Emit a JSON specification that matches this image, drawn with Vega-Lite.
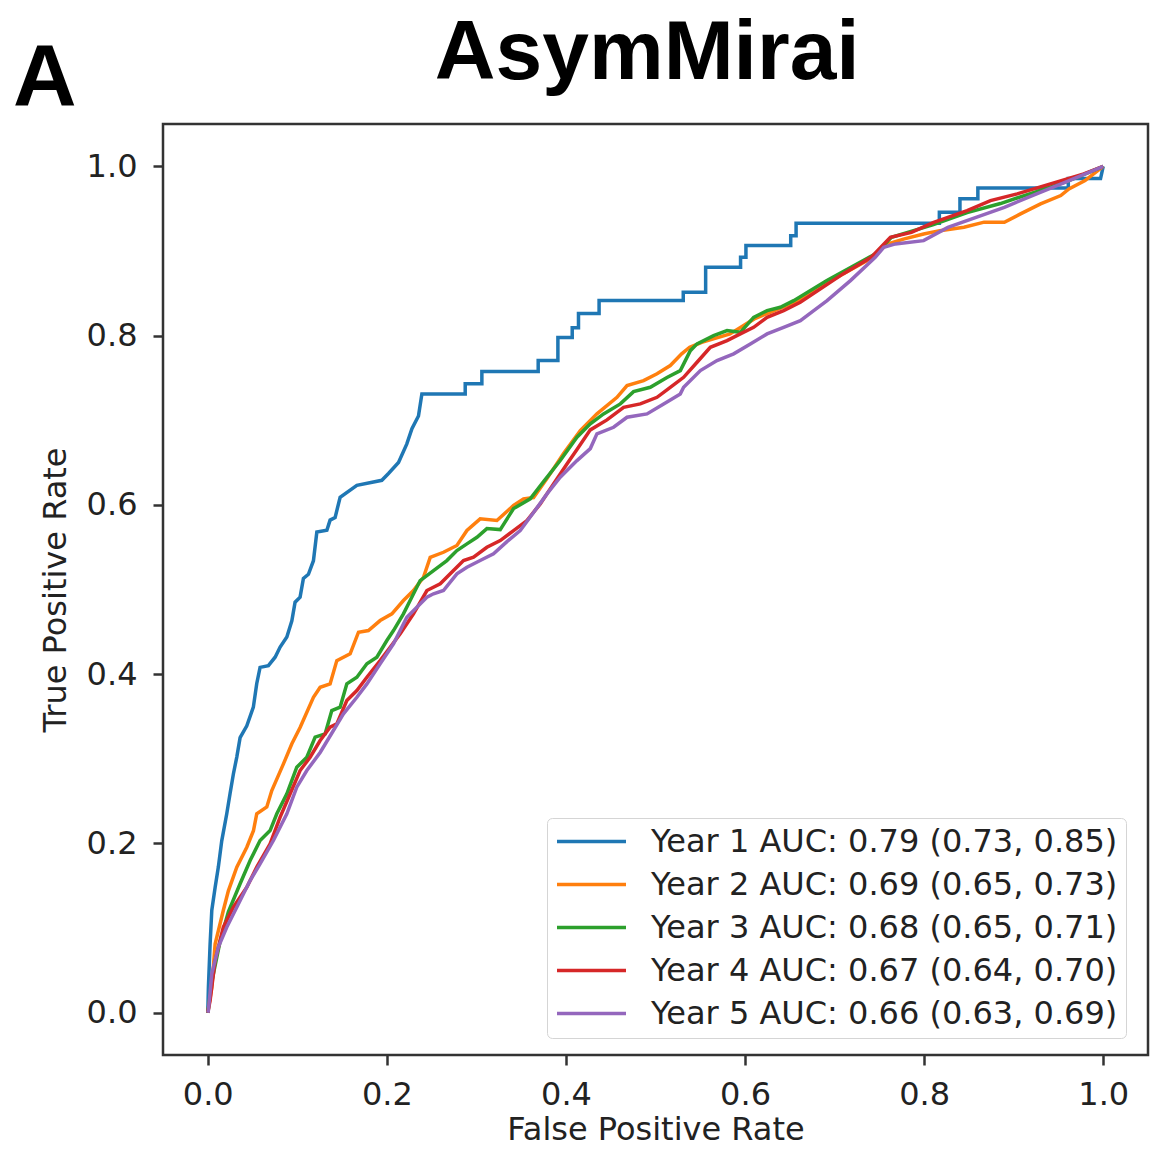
{
  "$schema": "https://vega.github.io/schema/vega-lite/v6.json",
  "autosize": {"type": "none"},
  "padding": {"left": 163, "top": 124, "right": 4, "bottom": 96},
  "width": 985,
  "height": 931,
  "background": "white",
  "datasets": {
    "labels": [
      {"s": 1, "label": "Year 1 AUC: 0.79 (0.73, 0.85)"},
      {"s": 2, "label": "Year 2 AUC: 0.69 (0.65, 0.73)"},
      {"s": 3, "label": "Year 3 AUC: 0.68 (0.65, 0.71)"},
      {"s": 4, "label": "Year 4 AUC: 0.67 (0.64, 0.70)"},
      {"s": 5, "label": "Year 5 AUC: 0.66 (0.63, 0.69)"}
    ],
    "texts": [
      {"t": "AsymMirai", "kind": "title", "px": 0.4908, "py": 1.1036},
      {"t": "A", "kind": "panel", "px": -0.182, "py": 1.072}
    ],
    "curves": [
      {"s":1,"i":0,"fpr":0,"tpr":0},
      {"s":1,"i":1,"fpr":0.0007,"tpr":0.030},
      {"s":1,"i":2,"fpr":0.0026,"tpr":0.081},
      {"s":1,"i":3,"fpr":0.0045,"tpr":0.121},
      {"s":1,"i":4,"fpr":0.0082,"tpr":0.148},
      {"s":1,"i":5,"fpr":0.0118,"tpr":0.172},
      {"s":1,"i":6,"fpr":0.0156,"tpr":0.203},
      {"s":1,"i":7,"fpr":0.0212,"tpr":0.235},
      {"s":1,"i":8,"fpr":0.0249,"tpr":0.259},
      {"s":1,"i":9,"fpr":0.0286,"tpr":0.282},
      {"s":1,"i":10,"fpr":0.0324,"tpr":0.302},
      {"s":1,"i":11,"fpr":0.0361,"tpr":0.325},
      {"s":1,"i":12,"fpr":0.0436,"tpr":0.339},
      {"s":1,"i":13,"fpr":0.0509,"tpr":0.361},
      {"s":1,"i":14,"fpr":0.0547,"tpr":0.389},
      {"s":1,"i":15,"fpr":0.0584,"tpr":0.408},
      {"s":1,"i":16,"fpr":0.0677,"tpr":0.410},
      {"s":1,"i":17,"fpr":0.0752,"tpr":0.420},
      {"s":1,"i":18,"fpr":0.0808,"tpr":0.432},
      {"s":1,"i":19,"fpr":0.0883,"tpr":0.444},
      {"s":1,"i":20,"fpr":0.0939,"tpr":0.463},
      {"s":1,"i":21,"fpr":0.0975,"tpr":0.485},
      {"s":1,"i":22,"fpr":0.1031,"tpr":0.491},
      {"s":1,"i":23,"fpr":0.1068,"tpr":0.513},
      {"s":1,"i":24,"fpr":0.1124,"tpr":0.518},
      {"s":1,"i":25,"fpr":0.118,"tpr":0.534},
      {"s":1,"i":26,"fpr":0.1218,"tpr":0.568},
      {"s":1,"i":27,"fpr":0.133,"tpr":0.570},
      {"s":1,"i":28,"fpr":0.1366,"tpr":0.582},
      {"s":1,"i":29,"fpr":0.1422,"tpr":0.585},
      {"s":1,"i":30,"fpr":0.1478,"tpr":0.609},
      {"s":1,"i":31,"fpr":0.1665,"tpr":0.623},
      {"s":1,"i":32,"fpr":0.1944,"tpr":0.629},
      {"s":1,"i":33,"fpr":0.2018,"tpr":0.637},
      {"s":1,"i":34,"fpr":0.213,"tpr":0.650},
      {"s":1,"i":35,"fpr":0.2223,"tpr":0.672},
      {"s":1,"i":36,"fpr":0.228,"tpr":0.690},
      {"s":1,"i":37,"fpr":0.2353,"tpr":0.705},
      {"s":1,"i":38,"fpr":0.2391,"tpr":0.731},
      {"s":1,"i":39,"fpr":0.2875,"tpr":0.731},
      {"s":1,"i":40,"fpr":0.2875,"tpr":0.743},
      {"s":1,"i":41,"fpr":0.3061,"tpr":0.743},
      {"s":1,"i":42,"fpr":0.3061,"tpr":0.7575},
      {"s":1,"i":43,"fpr":0.369,"tpr":0.7575},
      {"s":1,"i":44,"fpr":0.369,"tpr":0.7705},
      {"s":1,"i":45,"fpr":0.391,"tpr":0.7705},
      {"s":1,"i":46,"fpr":0.391,"tpr":0.7976},
      {"s":1,"i":47,"fpr":0.407,"tpr":0.7976},
      {"s":1,"i":48,"fpr":0.407,"tpr":0.8094},
      {"s":1,"i":49,"fpr":0.414,"tpr":0.8094},
      {"s":1,"i":50,"fpr":0.414,"tpr":0.826},
      {"s":1,"i":51,"fpr":0.437,"tpr":0.826},
      {"s":1,"i":52,"fpr":0.437,"tpr":0.8414},
      {"s":1,"i":53,"fpr":0.531,"tpr":0.8414},
      {"s":1,"i":54,"fpr":0.531,"tpr":0.8512},
      {"s":1,"i":55,"fpr":0.556,"tpr":0.8512},
      {"s":1,"i":56,"fpr":0.556,"tpr":0.8807},
      {"s":1,"i":57,"fpr":0.595,"tpr":0.8807},
      {"s":1,"i":58,"fpr":0.595,"tpr":0.8925},
      {"s":1,"i":59,"fpr":0.601,"tpr":0.8925},
      {"s":1,"i":60,"fpr":0.601,"tpr":0.9063},
      {"s":1,"i":61,"fpr":0.651,"tpr":0.9063},
      {"s":1,"i":62,"fpr":0.651,"tpr":0.9181},
      {"s":1,"i":63,"fpr":0.657,"tpr":0.9181},
      {"s":1,"i":64,"fpr":0.657,"tpr":0.9327},
      {"s":1,"i":65,"fpr":0.817,"tpr":0.9327},
      {"s":1,"i":66,"fpr":0.817,"tpr":0.9457},
      {"s":1,"i":67,"fpr":0.840,"tpr":0.9457},
      {"s":1,"i":68,"fpr":0.840,"tpr":0.9618},
      {"s":1,"i":69,"fpr":0.860,"tpr":0.9618},
      {"s":1,"i":70,"fpr":0.860,"tpr":0.9745},
      {"s":1,"i":71,"fpr":0.961,"tpr":0.9745},
      {"s":1,"i":72,"fpr":0.961,"tpr":0.9855},
      {"s":1,"i":73,"fpr":0.997,"tpr":0.9855},
      {"s":1,"i":74,"fpr":1.0,"tpr":1.0},

      {"s":2,"i":0,"fpr":0,"tpr":0},
      {"s":2,"i":1,"fpr":0.0045,"tpr":0.030},
      {"s":2,"i":2,"fpr":0.0082,"tpr":0.081},
      {"s":2,"i":3,"fpr":0.0174,"tpr":0.121},
      {"s":2,"i":4,"fpr":0.023,"tpr":0.144},
      {"s":2,"i":5,"fpr":0.0324,"tpr":0.172},
      {"s":2,"i":6,"fpr":0.0436,"tpr":0.1955},
      {"s":2,"i":7,"fpr":0.051,"tpr":0.215},
      {"s":2,"i":8,"fpr":0.0547,"tpr":0.235},
      {"s":2,"i":9,"fpr":0.0659,"tpr":0.243},
      {"s":2,"i":10,"fpr":0.0715,"tpr":0.2625},
      {"s":2,"i":11,"fpr":0.0845,"tpr":0.294},
      {"s":2,"i":12,"fpr":0.0939,"tpr":0.3177},
      {"s":2,"i":13,"fpr":0.1031,"tpr":0.337},
      {"s":2,"i":14,"fpr":0.118,"tpr":0.3727},
      {"s":2,"i":15,"fpr":0.1255,"tpr":0.3845},
      {"s":2,"i":16,"fpr":0.1366,"tpr":0.3885},
      {"s":2,"i":17,"fpr":0.1441,"tpr":0.416},
      {"s":2,"i":18,"fpr":0.159,"tpr":0.424},
      {"s":2,"i":19,"fpr":0.1683,"tpr":0.4495},
      {"s":2,"i":20,"fpr":0.1794,"tpr":0.4515},
      {"s":2,"i":21,"fpr":0.1925,"tpr":0.4633},
      {"s":2,"i":22,"fpr":0.2056,"tpr":0.4712},
      {"s":2,"i":23,"fpr":0.2185,"tpr":0.487},
      {"s":2,"i":24,"fpr":0.2297,"tpr":0.4988},
      {"s":2,"i":25,"fpr":0.2409,"tpr":0.5145},
      {"s":2,"i":26,"fpr":0.2484,"tpr":0.538},
      {"s":2,"i":27,"fpr":0.2632,"tpr":0.544},
      {"s":2,"i":28,"fpr":0.2782,"tpr":0.552},
      {"s":2,"i":29,"fpr":0.2894,"tpr":0.5697},
      {"s":2,"i":30,"fpr":0.3042,"tpr":0.5835},
      {"s":2,"i":31,"fpr":0.3229,"tpr":0.5815},
      {"s":2,"i":32,"fpr":0.3415,"tpr":0.5993},
      {"s":2,"i":33,"fpr":0.3526,"tpr":0.6071},
      {"s":2,"i":34,"fpr":0.3638,"tpr":0.6086},
      {"s":2,"i":35,"fpr":0.3788,"tpr":0.631},
      {"s":2,"i":36,"fpr":0.3973,"tpr":0.6606},
      {"s":2,"i":37,"fpr":0.416,"tpr":0.6878},
      {"s":2,"i":38,"fpr":0.4346,"tpr":0.7075},
      {"s":2,"i":39,"fpr":0.457,"tpr":0.7271},
      {"s":2,"i":40,"fpr":0.4682,"tpr":0.741},
      {"s":2,"i":41,"fpr":0.4867,"tpr":0.7468},
      {"s":2,"i":42,"fpr":0.5017,"tpr":0.7548},
      {"s":2,"i":43,"fpr":0.5165,"tpr":0.7646},
      {"s":2,"i":44,"fpr":0.5292,"tpr":0.7784},
      {"s":2,"i":45,"fpr":0.5382,"tpr":0.7862},
      {"s":2,"i":46,"fpr":0.5516,"tpr":0.7921},
      {"s":2,"i":47,"fpr":0.5832,"tpr":0.802},
      {"s":2,"i":48,"fpr":0.6103,"tpr":0.8197},
      {"s":2,"i":49,"fpr":0.6327,"tpr":0.8295},
      {"s":2,"i":50,"fpr":0.6553,"tpr":0.8393},
      {"s":2,"i":51,"fpr":0.6823,"tpr":0.857},
      {"s":2,"i":52,"fpr":0.7094,"tpr":0.8729},
      {"s":2,"i":53,"fpr":0.7364,"tpr":0.8886},
      {"s":2,"i":54,"fpr":0.759,"tpr":0.908},
      {"s":2,"i":55,"fpr":0.7769,"tpr":0.914},
      {"s":2,"i":56,"fpr":0.7994,"tpr":0.920},
      {"s":2,"i":57,"fpr":0.8175,"tpr":0.924},
      {"s":2,"i":58,"fpr":0.8445,"tpr":0.928},
      {"s":2,"i":59,"fpr":0.867,"tpr":0.934},
      {"s":2,"i":60,"fpr":0.8896,"tpr":0.9339},
      {"s":2,"i":61,"fpr":0.9076,"tpr":0.9438},
      {"s":2,"i":62,"fpr":0.930,"tpr":0.9556},
      {"s":2,"i":63,"fpr":0.9526,"tpr":0.9654},
      {"s":2,"i":64,"fpr":0.9617,"tpr":0.9733},
      {"s":2,"i":65,"fpr":0.9797,"tpr":0.9831},
      {"s":2,"i":66,"fpr":1.0,"tpr":1.0},

      {"s":3,"i":0,"fpr":0,"tpr":0},
      {"s":3,"i":1,"fpr":0.0045,"tpr":0.0366},
      {"s":3,"i":2,"fpr":0.0137,"tpr":0.0839},
      {"s":3,"i":3,"fpr":0.023,"tpr":0.1193},
      {"s":3,"i":4,"fpr":0.0361,"tpr":0.1523},
      {"s":3,"i":5,"fpr":0.0473,"tpr":0.1798},
      {"s":3,"i":6,"fpr":0.0584,"tpr":0.2034},
      {"s":3,"i":7,"fpr":0.0696,"tpr":0.2152},
      {"s":3,"i":8,"fpr":0.0771,"tpr":0.235},
      {"s":3,"i":9,"fpr":0.0883,"tpr":0.2586},
      {"s":3,"i":10,"fpr":0.0994,"tpr":0.29},
      {"s":3,"i":11,"fpr":0.1106,"tpr":0.3018},
      {"s":3,"i":12,"fpr":0.1199,"tpr":0.3255},
      {"s":3,"i":13,"fpr":0.1311,"tpr":0.3295},
      {"s":3,"i":14,"fpr":0.1385,"tpr":0.357},
      {"s":3,"i":15,"fpr":0.1478,"tpr":0.3609},
      {"s":3,"i":16,"fpr":0.1553,"tpr":0.3885},
      {"s":3,"i":17,"fpr":0.1665,"tpr":0.3963},
      {"s":3,"i":18,"fpr":0.1777,"tpr":0.4122},
      {"s":3,"i":19,"fpr":0.1888,"tpr":0.42},
      {"s":3,"i":20,"fpr":0.2,"tpr":0.4397},
      {"s":3,"i":21,"fpr":0.2074,"tpr":0.4515},
      {"s":3,"i":22,"fpr":0.2185,"tpr":0.4712},
      {"s":3,"i":23,"fpr":0.226,"tpr":0.487},
      {"s":3,"i":24,"fpr":0.2372,"tpr":0.5106},
      {"s":3,"i":25,"fpr":0.2521,"tpr":0.5224},
      {"s":3,"i":26,"fpr":0.267,"tpr":0.5342},
      {"s":3,"i":27,"fpr":0.2782,"tpr":0.546},
      {"s":3,"i":28,"fpr":0.2894,"tpr":0.5539},
      {"s":3,"i":29,"fpr":0.3006,"tpr":0.5617},
      {"s":3,"i":30,"fpr":0.3117,"tpr":0.572},
      {"s":3,"i":31,"fpr":0.3266,"tpr":0.5708},
      {"s":3,"i":32,"fpr":0.3415,"tpr":0.5956},
      {"s":3,"i":33,"fpr":0.3601,"tpr":0.6071},
      {"s":3,"i":34,"fpr":0.375,"tpr":0.6275},
      {"s":3,"i":35,"fpr":0.3936,"tpr":0.6524},
      {"s":3,"i":36,"fpr":0.4123,"tpr":0.6799},
      {"s":3,"i":37,"fpr":0.4272,"tpr":0.6957},
      {"s":3,"i":38,"fpr":0.442,"tpr":0.7075},
      {"s":3,"i":39,"fpr":0.4607,"tpr":0.7193},
      {"s":3,"i":40,"fpr":0.4755,"tpr":0.7338},
      {"s":3,"i":41,"fpr":0.4942,"tpr":0.7389},
      {"s":3,"i":42,"fpr":0.5128,"tpr":0.7504},
      {"s":3,"i":43,"fpr":0.5277,"tpr":0.7586},
      {"s":3,"i":44,"fpr":0.5389,"tpr":0.7822},
      {"s":3,"i":45,"fpr":0.5464,"tpr":0.7902},
      {"s":3,"i":46,"fpr":0.5649,"tpr":0.80},
      {"s":3,"i":47,"fpr":0.5799,"tpr":0.8059},
      {"s":3,"i":48,"fpr":0.5947,"tpr":0.8039},
      {"s":3,"i":49,"fpr":0.6096,"tpr":0.8216},
      {"s":3,"i":50,"fpr":0.6246,"tpr":0.8295},
      {"s":3,"i":51,"fpr":0.6394,"tpr":0.8334},
      {"s":3,"i":52,"fpr":0.6543,"tpr":0.8413},
      {"s":3,"i":53,"fpr":0.6914,"tpr":0.865},
      {"s":3,"i":54,"fpr":0.7183,"tpr":0.8807},
      {"s":3,"i":55,"fpr":0.7454,"tpr":0.8965},
      {"s":3,"i":56,"fpr":0.7635,"tpr":0.9161},
      {"s":3,"i":57,"fpr":0.8104,"tpr":0.9311},
      {"s":3,"i":58,"fpr":0.848,"tpr":0.9453},
      {"s":3,"i":59,"fpr":0.8852,"tpr":0.956},
      {"s":3,"i":60,"fpr":0.9221,"tpr":0.969},
      {"s":3,"i":61,"fpr":0.959,"tpr":0.982},
      {"s":3,"i":62,"fpr":1.0,"tpr":1.0},

      {"s":4,"i":0,"fpr":0,"tpr":0},
      {"s":4,"i":1,"fpr":0.0026,"tpr":0.0144},
      {"s":4,"i":2,"fpr":0.0082,"tpr":0.0617},
      {"s":4,"i":3,"fpr":0.0174,"tpr":0.101},
      {"s":4,"i":4,"fpr":0.0286,"tpr":0.1246},
      {"s":4,"i":5,"fpr":0.0436,"tpr":0.1483},
      {"s":4,"i":6,"fpr":0.0547,"tpr":0.1719},
      {"s":4,"i":7,"fpr":0.0696,"tpr":0.1995},
      {"s":4,"i":8,"fpr":0.0808,"tpr":0.231},
      {"s":4,"i":9,"fpr":0.092,"tpr":0.2586},
      {"s":4,"i":10,"fpr":0.1031,"tpr":0.2861},
      {"s":4,"i":11,"fpr":0.1143,"tpr":0.3018},
      {"s":4,"i":12,"fpr":0.1255,"tpr":0.3216},
      {"s":4,"i":13,"fpr":0.1366,"tpr":0.3373},
      {"s":4,"i":14,"fpr":0.1441,"tpr":0.3413},
      {"s":4,"i":15,"fpr":0.1553,"tpr":0.3688},
      {"s":4,"i":16,"fpr":0.1665,"tpr":0.3806},
      {"s":4,"i":17,"fpr":0.1777,"tpr":0.3963},
      {"s":4,"i":18,"fpr":0.1925,"tpr":0.4161},
      {"s":4,"i":19,"fpr":0.2037,"tpr":0.4318},
      {"s":4,"i":20,"fpr":0.2149,"tpr":0.4476},
      {"s":4,"i":21,"fpr":0.2297,"tpr":0.4712},
      {"s":4,"i":22,"fpr":0.2447,"tpr":0.4988},
      {"s":4,"i":23,"fpr":0.2596,"tpr":0.5067},
      {"s":4,"i":24,"fpr":0.2744,"tpr":0.5224},
      {"s":4,"i":25,"fpr":0.2856,"tpr":0.5342},
      {"s":4,"i":26,"fpr":0.2968,"tpr":0.5381},
      {"s":4,"i":27,"fpr":0.3117,"tpr":0.5499},
      {"s":4,"i":28,"fpr":0.3266,"tpr":0.5578},
      {"s":4,"i":29,"fpr":0.3415,"tpr":0.5696},
      {"s":4,"i":30,"fpr":0.3564,"tpr":0.5814},
      {"s":4,"i":31,"fpr":0.3713,"tpr":0.6012},
      {"s":4,"i":32,"fpr":0.3861,"tpr":0.6248},
      {"s":4,"i":33,"fpr":0.4011,"tpr":0.6484},
      {"s":4,"i":34,"fpr":0.4123,"tpr":0.6653},
      {"s":4,"i":35,"fpr":0.4272,"tpr":0.6886},
      {"s":4,"i":36,"fpr":0.4458,"tpr":0.7004},
      {"s":4,"i":37,"fpr":0.4644,"tpr":0.7153},
      {"s":4,"i":38,"fpr":0.483,"tpr":0.7193},
      {"s":4,"i":39,"fpr":0.5017,"tpr":0.7271},
      {"s":4,"i":40,"fpr":0.5165,"tpr":0.7389},
      {"s":4,"i":41,"fpr":0.5314,"tpr":0.7507},
      {"s":4,"i":42,"fpr":0.5464,"tpr":0.7685},
      {"s":4,"i":43,"fpr":0.5612,"tpr":0.7862},
      {"s":4,"i":44,"fpr":0.5799,"tpr":0.7941},
      {"s":4,"i":45,"fpr":0.5947,"tpr":0.802},
      {"s":4,"i":46,"fpr":0.6096,"tpr":0.8098},
      {"s":4,"i":47,"fpr":0.6246,"tpr":0.8216},
      {"s":4,"i":48,"fpr":0.6431,"tpr":0.8295},
      {"s":4,"i":49,"fpr":0.6617,"tpr":0.8393},
      {"s":4,"i":50,"fpr":0.7094,"tpr":0.8729},
      {"s":4,"i":51,"fpr":0.7409,"tpr":0.8925},
      {"s":4,"i":52,"fpr":0.7623,"tpr":0.9161},
      {"s":4,"i":53,"fpr":0.7858,"tpr":0.922},
      {"s":4,"i":54,"fpr":0.8107,"tpr":0.9338},
      {"s":4,"i":55,"fpr":0.848,"tpr":0.9477},
      {"s":4,"i":56,"fpr":0.8741,"tpr":0.9595},
      {"s":4,"i":57,"fpr":0.9039,"tpr":0.9674},
      {"s":4,"i":58,"fpr":0.9411,"tpr":0.9792},
      {"s":4,"i":59,"fpr":0.9783,"tpr":0.991},
      {"s":4,"i":60,"fpr":1.0,"tpr":1.0},

      {"s":5,"i":0,"fpr":0,"tpr":0},
      {"s":5,"i":1,"fpr":0.0007,"tpr":0.0026},
      {"s":5,"i":2,"fpr":0.0045,"tpr":0.046},
      {"s":5,"i":3,"fpr":0.0118,"tpr":0.0774},
      {"s":5,"i":4,"fpr":0.0212,"tpr":0.101},
      {"s":5,"i":5,"fpr":0.0324,"tpr":0.1246},
      {"s":5,"i":6,"fpr":0.0473,"tpr":0.1562},
      {"s":5,"i":7,"fpr":0.0584,"tpr":0.1759},
      {"s":5,"i":8,"fpr":0.0733,"tpr":0.2034},
      {"s":5,"i":9,"fpr":0.0883,"tpr":0.235},
      {"s":5,"i":10,"fpr":0.0994,"tpr":0.2664},
      {"s":5,"i":11,"fpr":0.1106,"tpr":0.2861},
      {"s":5,"i":12,"fpr":0.1255,"tpr":0.3074},
      {"s":5,"i":13,"fpr":0.1403,"tpr":0.3334},
      {"s":5,"i":14,"fpr":0.1515,"tpr":0.3531},
      {"s":5,"i":15,"fpr":0.1665,"tpr":0.3727},
      {"s":5,"i":16,"fpr":0.1777,"tpr":0.3885},
      {"s":5,"i":17,"fpr":0.1925,"tpr":0.4122},
      {"s":5,"i":18,"fpr":0.2074,"tpr":0.4358},
      {"s":5,"i":19,"fpr":0.2223,"tpr":0.4672},
      {"s":5,"i":20,"fpr":0.2335,"tpr":0.479},
      {"s":5,"i":21,"fpr":0.2447,"tpr":0.4908},
      {"s":5,"i":22,"fpr":0.2521,"tpr":0.4949},
      {"s":5,"i":23,"fpr":0.2632,"tpr":0.4988},
      {"s":5,"i":24,"fpr":0.2782,"tpr":0.5185},
      {"s":5,"i":25,"fpr":0.2894,"tpr":0.5263},
      {"s":5,"i":26,"fpr":0.3042,"tpr":0.5342},
      {"s":5,"i":27,"fpr":0.3191,"tpr":0.5421},
      {"s":5,"i":28,"fpr":0.3341,"tpr":0.5566},
      {"s":5,"i":29,"fpr":0.3489,"tpr":0.5696},
      {"s":5,"i":30,"fpr":0.3638,"tpr":0.5909},
      {"s":5,"i":31,"fpr":0.3788,"tpr":0.613},
      {"s":5,"i":32,"fpr":0.3936,"tpr":0.6326},
      {"s":5,"i":33,"fpr":0.4123,"tpr":0.6523},
      {"s":5,"i":34,"fpr":0.4272,"tpr":0.6665},
      {"s":5,"i":35,"fpr":0.4346,"tpr":0.6839},
      {"s":5,"i":36,"fpr":0.4532,"tpr":0.6917},
      {"s":5,"i":37,"fpr":0.4682,"tpr":0.7035},
      {"s":5,"i":38,"fpr":0.4905,"tpr":0.7075},
      {"s":5,"i":39,"fpr":0.5091,"tpr":0.7193},
      {"s":5,"i":40,"fpr":0.5277,"tpr":0.7311},
      {"s":5,"i":41,"fpr":0.5314,"tpr":0.7389},
      {"s":5,"i":42,"fpr":0.5501,"tpr":0.7587},
      {"s":5,"i":43,"fpr":0.5687,"tpr":0.7705},
      {"s":5,"i":44,"fpr":0.5873,"tpr":0.7784},
      {"s":5,"i":45,"fpr":0.6059,"tpr":0.7902},
      {"s":5,"i":46,"fpr":0.6246,"tpr":0.802},
      {"s":5,"i":47,"fpr":0.6431,"tpr":0.8098},
      {"s":5,"i":48,"fpr":0.6618,"tpr":0.8177},
      {"s":5,"i":49,"fpr":0.6767,"tpr":0.8295},
      {"s":5,"i":50,"fpr":0.6916,"tpr":0.8413},
      {"s":5,"i":51,"fpr":0.7177,"tpr":0.865},
      {"s":5,"i":52,"fpr":0.7454,"tpr":0.8925},
      {"s":5,"i":53,"fpr":0.7549,"tpr":0.9043},
      {"s":5,"i":54,"fpr":0.7679,"tpr":0.9083},
      {"s":5,"i":55,"fpr":0.7994,"tpr":0.9122},
      {"s":5,"i":56,"fpr":0.8265,"tpr":0.9279},
      {"s":5,"i":57,"fpr":0.858,"tpr":0.9397},
      {"s":5,"i":58,"fpr":0.8896,"tpr":0.9516},
      {"s":5,"i":59,"fpr":0.9256,"tpr":0.9674},
      {"s":5,"i":60,"fpr":0.9572,"tpr":0.9811},
      {"s":5,"i":61,"fpr":0.9887,"tpr":0.9949},
      {"s":5,"i":62,"fpr":1.0,"tpr":1.0}
    ]
  },
  "layer": [
    {
      "data": {"name": "curves"},
      "transform": [
        {"lookup": "s", "from": {"data": {"name": "labels"}, "key": "s", "fields": ["label"]}}
      ],
      "mark": {"type": "line", "strokeWidth": 3.5, "clip": false},
      "encoding": {
        "x": {
          "field": "fpr", "type": "quantitative",
          "scale": {"domain": [-0.05, 1.05], "nice": false, "zero": false},
          "axis": {"title": "False Positive Rate", "values": [0, 0.2, 0.4, 0.6, 0.8, 1.0], "format": ".1f"}
        },
        "y": {
          "field": "tpr", "type": "quantitative",
          "scale": {"domain": [-0.05, 1.05], "nice": false, "zero": false},
          "axis": {"title": "True Positive Rate", "values": [0, 0.2, 0.4, 0.6, 0.8, 1.0], "format": ".1f"}
        },
        "order": {"field": "i", "type": "quantitative"},
        "color": {
          "field": "label", "type": "nominal",
          "scale": {
            "domain": ["Year 1 AUC: 0.79 (0.73, 0.85)", "Year 2 AUC: 0.69 (0.65, 0.73)", "Year 3 AUC: 0.68 (0.65, 0.71)", "Year 4 AUC: 0.67 (0.64, 0.70)", "Year 5 AUC: 0.66 (0.63, 0.69)"],
            "range": ["#1f77b4", "#ff7f0e", "#2ca02c", "#d62728", "#9467bd"]
          },
          "legend": {
            "orient": "none", "legendX": 384, "legendY": 694, "title": null,
            "symbolType": "stroke", "symbolSize": 4761, "symbolStrokeWidth": 3.5,
            "clipHeight": 31,
            "labelFontSize": 32, "labelFont": "DejaVu Sans", "labelColor": "#222", "labelLimit": 0,
            "labelOffset": 23, "rowPadding": 10, "padding": 8,
            "fillColor": "white", "strokeColor": "#d5d5d5", "cornerRadius": 5
          }
        }
      }
    },
    {
      "data": {"name": "texts"},
      "mark": {"type": "text", "font": "Liberation Sans", "fontWeight": "bold", "color": "#000", "align": "center", "baseline": "alphabetic", "clip": false},
      "encoding": {
        "x": {"field": "px", "type": "quantitative"},
        "y": {"field": "py", "type": "quantitative"},
        "text": {"field": "t"},
        "size": {"field": "kind", "type": "nominal", "scale": {"domain": ["title", "panel"], "range": [84, 88]}, "legend": null}
      }
    }
  ],
  "config": {
    "view": {"stroke": "#333", "strokeWidth": 2.5},
    "axis": {
      "grid": false, "domain": false,
      "tickColor": "#333", "tickWidth": 2.5, "tickSize": 10,
      "labelFont": "DejaVu Sans", "labelFontSize": 32, "labelColor": "#222",
      "titleFont": "DejaVu Sans", "titleFontSize": 32, "titleFontWeight": "normal", "titleColor": "#222"
    },
    "axisX": {"titlePadding": 4, "labelPadding": 14},
    "axisY": {"titlePadding": 14, "labelPadding": 16}
  }
}
